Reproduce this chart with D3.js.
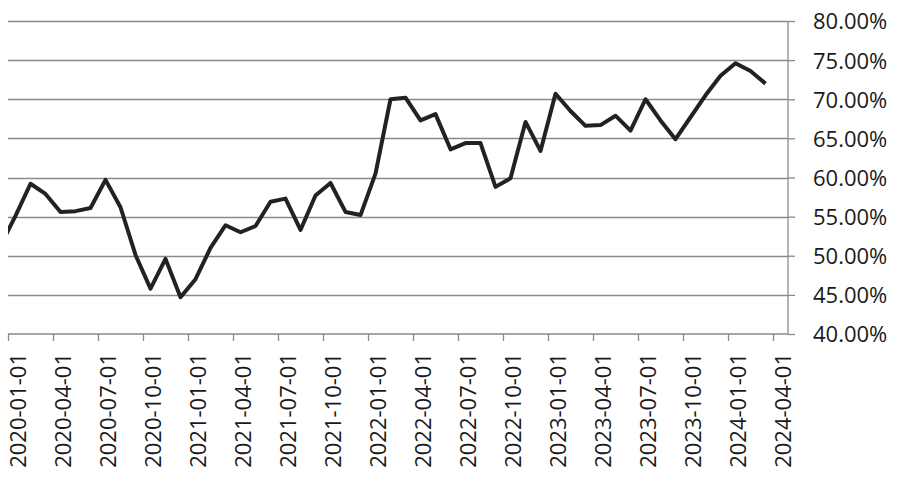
<!DOCTYPE html>
<html>
<head>
<meta charset="utf-8">
<script src="https://cdn.jsdelivr.net/npm/d3@7"></script>
<style>
  html, body { margin: 0; padding: 0; background: #fff; }
  svg { display: block; }
</style>
</head>
<body>
<svg id="chart" width="900" height="477"></svg>
<script>
// ---- data (monthly values, %) ----
const months = [
  "2019-12",
  "2020-01","2020-02","2020-03","2020-04","2020-05","2020-06","2020-07","2020-08","2020-09","2020-10","2020-11","2020-12",
  "2021-01","2021-02","2021-03","2021-04","2021-05","2021-06","2021-07","2021-08","2021-09","2021-10","2021-11","2021-12",
  "2022-01","2022-02","2022-03","2022-04","2022-05","2022-06","2022-07","2022-08","2022-09","2022-10","2022-11","2022-12",
  "2023-01","2023-02","2023-03","2023-04","2023-05","2023-06","2023-07","2023-08","2023-09","2023-10","2023-11","2023-12",
  "2024-01","2024-02","2024-03"
];
const values = [
  51.3,
  55.1, 59.2, 57.9, 55.6, 55.7, 56.1, 59.7, 56.2, 50.1, 45.8, 49.6, 44.7,
  47.0, 51.0, 53.9, 53.0, 53.8, 56.9, 57.3, 53.3, 57.7, 59.3, 55.6, 55.2,
  60.5, 70.0, 70.2, 67.3, 68.1, 63.6, 64.4, 64.4, 58.8, 59.9, 67.1, 63.4,
  70.7, 68.5, 66.6, 66.7, 67.9, 66.0, 70.0, 67.3, 64.9, 67.7, 70.5, 73.0,
  74.6, 73.6, 72.0
];
const xTickLabels = [
  "2020-01-01","2020-04-01","2020-07-01","2020-10-01",
  "2021-01-01","2021-04-01","2021-07-01","2021-10-01",
  "2022-01-01","2022-04-01","2022-07-01","2022-10-01",
  "2023-01-01","2023-04-01","2023-07-01","2023-10-01",
  "2024-01-01","2024-04-01"
];
const yTicks = [40, 45, 50, 55, 60, 65, 70, 75, 80];

(function () {
  const monthIndex = s => {
    const [yy, mm] = s.split("-").map(Number);
    return (yy - 2020) * 12 + (mm - 1);
  };

  const svg = d3.select("#chart");
  const pLeft = 8, pRight = 788, pTop = 21, pBottom = 334;
  const font = "'Open Sans', 'Noto Sans', sans-serif";
  const gridColor = "#8a8a8a";

  const x = d3.scaleLinear().domain([0, 52]).range([pLeft, pRight]);
  const y = d3.scaleLinear().domain([40, 80]).range([pBottom, pTop]);

  svg.append("defs").append("clipPath").attr("id", "plotclip")
    .append("rect").attr("x", pLeft).attr("y", 0).attr("width", pRight - pLeft).attr("height", 477);

  // gridlines
  svg.append("g").selectAll("line").data(yTicks.filter(t => t > 40)).join("line")
    .attr("x1", pLeft).attr("x2", pRight)
    .attr("y1", d => Math.round(y(d)) + 0.5).attr("y2", d => Math.round(y(d)) + 0.5)
    .attr("stroke", gridColor).attr("stroke-width", 1.3);

  // right axis
  const yAxis = d3.axisRight(y).tickValues(yTicks).tickSize(7).tickPadding(18)
    .tickFormat(d => d3.format(".2f")(d) + "%");
  const gy = svg.append("g").attr("transform", `translate(${pRight},0)`).call(yAxis);
  gy.select(".domain").attr("stroke", gridColor).attr("stroke-width", 1.3)
    .attr("d", `M0,${pTop}V${pBottom}`);
  gy.selectAll(".tick line").attr("stroke", gridColor).attr("stroke-width", 1.3);
  gy.selectAll(".tick text").attr("font-family", font).attr("font-size", 22)
    .attr("fill", "#1a1a1a").attr("dy", "0.36em");

  // bottom axis
  const tickIdx = xTickLabels.map(s => monthIndex(s.slice(0, 7)));
  const xAxis = d3.axisBottom(x).tickValues(tickIdx).tickSize(7).tickFormat("");
  const gx = svg.append("g").attr("transform", `translate(0,${pBottom})`).call(xAxis);
  gx.select(".domain").attr("stroke", gridColor).attr("stroke-width", 1.3)
    .attr("d", `M${pLeft},0H${pRight}`);
  gx.selectAll(".tick line").attr("stroke", gridColor).attr("stroke-width", 1.3);

  svg.append("g").selectAll("text").data(xTickLabels).join("text")
    .attr("transform", d => `translate(${x(monthIndex(d.slice(0, 7))) + 10},${pBottom + 19}) rotate(-90)`)
    .attr("text-anchor", "end")
    .attr("dy", "0.35em")
    .attr("font-family", font).attr("font-size", 22).attr("fill", "#1a1a1a")
    .text(d => d);

  // line
  const pts = months.map((m, i) => [monthIndex(m) + 0.5, values[i]]);
  const line = d3.line().x(d => x(d[0])).y(d => y(d[1]));
  svg.append("path").datum(pts)
    .attr("clip-path", "url(#plotclip)")
    .attr("d", line)
    .attr("fill", "none")
    .attr("stroke", "#222")
    .attr("stroke-width", 4)
    .attr("stroke-linejoin", "round");
})();
</script>
</body>
</html>
